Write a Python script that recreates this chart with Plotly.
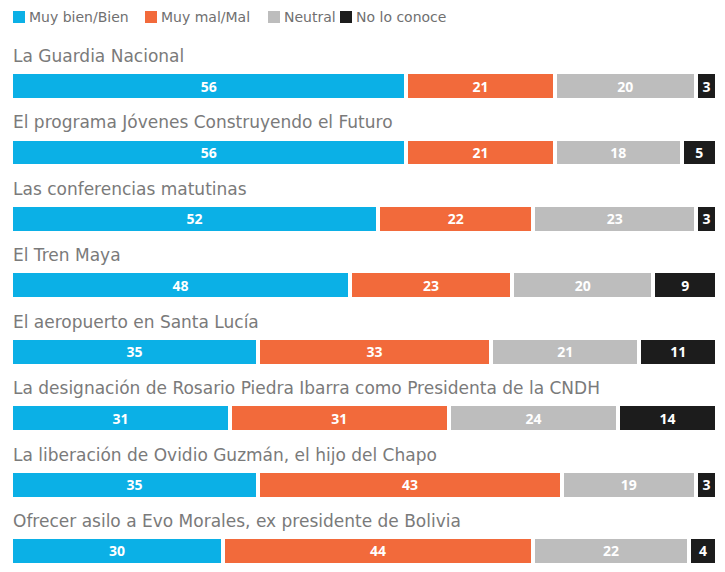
import plotly.graph_objects as go

temas = [
    "La Guardia Nacional",
    "El programa Jóvenes Construyendo el Futuro",
    "Las conferencias matutinas",
    "El Tren Maya",
    "El aeropuerto en Santa Lucía",
    "La designación de Rosario Piedra Ibarra como Presidenta de la CNDH",
    "La liberación de Ovidio Guzmán, el hijo del Chapo",
    "Ofrecer asilo a Evo Morales, ex presidente de Bolivia",
]
bien = [56, 56, 52, 48, 35, 31, 35, 30]
mal = [21, 21, 22, 23, 33, 31, 43, 44]
neutral = [20, 18, 23, 20, 21, 24, 19, 22]
no_conoce = [3, 5, 3, 9, 11, 14, 3, 4]

series = [
    ("Muy bien/Bien", bien, "#0bb0e6"),
    ("Muy mal/Mal", mal, "#f26a3b"),
    ("Neutral", neutral, "#bdbdbd"),
    ("No lo conoce", no_conoce, "#1c1c1c"),
]

W, H = 709, 556
L, T = 3, 32
PW, PH = W - L, H - T

def px_x(x):
    return (x - L) / PW

def px_y(y):
    return 1 + (T - y) / PH

fig = go.Figure()
for name, vals, color in series:
    fig.add_trace(go.Bar(
        y=temas, x=vals, name=name, orientation="h", showlegend=False,
        marker=dict(color=color, line=dict(color="white", width=4)),
        text=vals, textposition="inside", insidetextanchor="middle",
        textfont=dict(color="white", size=14, family="Open Sans", weight="bold"),
        textangle=0, width=0.42,
    ))

# label above each bar
for t in temas:
    fig.add_annotation(x=0, y=t, xref="x", yref="y", text=t, showarrow=False,
                       xanchor="left", yanchor="middle", yshift=30, xshift=0,
                       font=dict(size=17, color="#7a7a7a", family="DejaVu Sans"))

# legend drawn by hand: squares + text
legend_x = [5, 137, 260, 332]
for (name, vals, color), lx in zip(series, legend_x):
    fig.add_shape(type="rect", xref="paper", yref="paper",
                  x0=px_x(lx), x1=px_x(lx + 12), y0=px_y(15), y1=px_y(3),
                  fillcolor=color, line_width=0)
    fig.add_annotation(x=px_x(lx + 14), y=px_y(9), xref="paper", yref="paper",
                       text=name, showarrow=False, xanchor="left", yanchor="middle",
                       font=dict(size=14, color="#707070", family="DejaVu Sans"))

fig.update_layout(
    barmode="stack",
    width=W, height=H,
    margin=dict(l=L, r=0, t=T, b=0),
    paper_bgcolor="white", plot_bgcolor="white",
    showlegend=False,
    xaxis=dict(range=[0, 100], visible=False, fixedrange=True),
    yaxis=dict(range=[7.196, -0.693], visible=False, fixedrange=True),
    uniformtext=dict(minsize=12, mode="show"),
)

fig.write_html("out.html")
